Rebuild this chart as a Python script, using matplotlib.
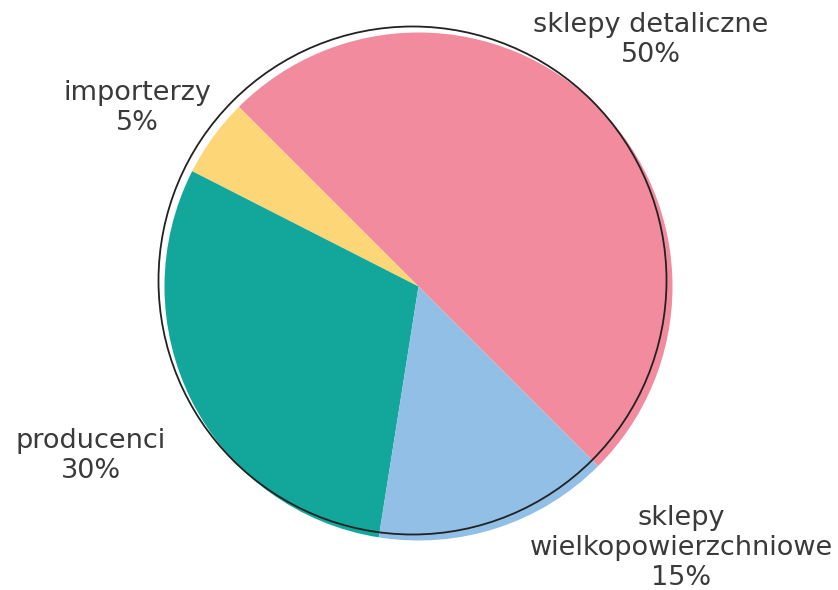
import matplotlib.pyplot as plt
from matplotlib.patches import Circle

# dane
labels = ["sklepy detaliczne", "importerzy", "producenci", "sklepy\nwielkopowierzchniowe"]
values = [50, 5, 30, 15]
colors = ["#F28B9D", "#FCD677", "#13A79B", "#91BFE6"]

W, H = 838, 590
fig = plt.figure(figsize=(W / 100, H / 100), dpi=100)
ax = fig.add_axes([0, 0, 1, 1])

cx, cy, r = 418.5, H - 286.5, 254

ax.pie(values, colors=colors, startangle=-45, counterclock=True,
       center=(cx, cy), radius=r, wedgeprops=dict(linewidth=0))

# cienki czarny okrag przesuniety lekko w lewo i w gore
ax.add_patch(Circle((cx - 6, cy + 6), r, fill=False, edgecolor="#222222", linewidth=1.3))

# etykiety (pozycje w pikselach)
label_pos = [(651, 40), (137, 108), (91, 456), (681, 548)]
for lab, v, (px, py) in zip(labels, values, label_pos):
    ax.text(px, H - py, f"{lab}\n{v}%", ha="center", va="center",
            fontsize=19.5, color="#3a3a3a", family="DejaVu Sans", linespacing=1.22)

ax.set_xlim(0, W)
ax.set_ylim(0, H)
ax.set_aspect("equal")
ax.axis("off")

fig.savefig("out.png", dpi=100)
